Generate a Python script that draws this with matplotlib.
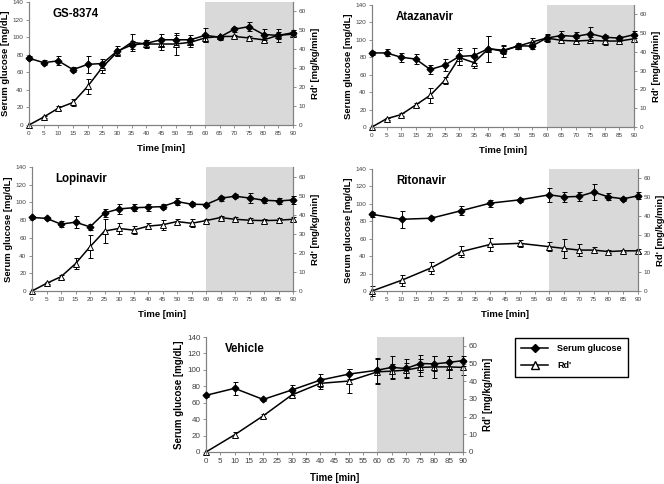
import matplotlib
matplotlib.use("Agg")
import matplotlib.pyplot as plt
from matplotlib.lines import Line2D

plt.rcParams['font.family'] = ['Liberation Sans', 'DejaVu Sans']

# sampling times
t_full = [0, 5, 10, 15, 20, 25, 30, 35, 40, 45, 50, 55, 60, 65, 70, 75, 80, 85, 90]
t_sparse = [0, 10, 20, 30, 40, 50, 60, 65, 70, 75, 80, 85, 90]

# GS-8374
gs_glc = [76, 71, 73, 63, 69, 70, 84, 91, 93, 97, 97, 97, 102, 100, 109, 112, 103, 102, 105]
gs_glc_err = [2, 3, 5, 3, 10, 5, 6, 5, 4, 7, 6, 5, 8, 3, 3, 5, 6, 7, 3]
gs_rd = [0, 4.2, 8.9, 11.9, 20.4, 30.5, 38.4, 43.7, 42.8, 42.8, 42.8, 43.7, 46, 46.8, 46.8, 46, 45, 47.4, 48]
gs_rd_err = [0, 0.5, 1.2, 2, 4, 3, 2, 4.5, 2, 3, 6, 2.5, 2, 1, 1, 1, 1, 2, 1]

# Atazanavir
ata_glc = [85, 85, 80, 78, 66, 71, 81, 82, 90, 87, 93, 93, 102, 105, 104, 107, 103, 102, 106]
ata_glc_err = [2, 4, 5, 6, 5, 7, 10, 9, 15, 7, 3, 4, 5, 5, 5, 8, 3, 3, 4]
ata_rd = [0, 4.4, 6.6, 11.7, 16.9, 24.9, 37, 34.3, 41.7, 40.9, 43, 45.3, 47.4, 46.2, 45.8, 46.2, 45.8, 45.8, 47]
ata_rd_err = [0, 0.5, 1, 1, 4, 2, 4, 3, 7, 2, 1, 2, 1.5, 1.5, 1.5, 1.5, 2, 1.5, 1.5]

# Lopinavir
lop_glc = [83, 82, 75.5, 77.7, 72.4, 88, 92.7, 94, 94.6, 95.3, 101, 98, 97.6, 104.7, 107, 105, 102.5, 101.7, 102.8]
lop_glc_err = [2, 2, 3, 7, 3, 5, 6, 4, 4, 3, 4, 2, 2, 3, 2, 6, 3, 3, 5]
lop_rd = [0, 4, 7.5, 14.3, 23.2, 31.4, 32.8, 31.9, 34, 34.7, 36.4, 35.5, 36.9, 38.5, 37.6, 37.1, 36.9, 37.1, 37.6]
lop_rd_err = [0, 0.5, 1, 3, 6, 6.5, 3, 2, 1.5, 2.5, 1.5, 2, 1, 1, 1, 1, 1, 1, 1]

# Ritonavir
rit_glc = [88, 82.3, 83.5, 92, 100.8, 104.6, 110.4, 108, 108.5, 113.5, 108, 105.8, 109.2]
rit_glc_err = [3, 10, 2, 5, 4, 2, 8, 6, 5, 9, 4, 2, 4]
rit_rd = [0, 5.7, 12.3, 20.9, 24.8, 25.4, 23.6, 22.7, 21.8, 21.8, 21, 21.4, 21.4]
rit_rd_err = [2.5, 3, 3, 3, 3.5, 2, 2.5, 5, 3, 1.5, 1, 0.5, 1]

# Vehicle
veh_glc = [69, 77.5, 64, 75.4, 87.5, 94.8, 99.6, 103, 101.7, 107.7, 107.3, 109, 111.3]
veh_glc_err = [2, 8, 2, 6, 8, 6, 15, 14, 12, 10, 9, 8, 6]
veh_rd = [0, 9.7, 20.4, 32.2, 38.8, 40.1, 45.3, 45.7, 46.3, 47.8, 48.1, 48.1, 47.8]
veh_rd_err = [0, 1.5, 1, 1.5, 3, 7, 7, 4, 4, 5, 6, 6, 4]

spine_col = '#808080'
tick_col = '#404040'


def draw_panel(rect, title, t, glc, glc_err, rd, rd_err, fs=4.6, lfs=6.8,
               tx=0.09, tfs=8.3):
    ax = fig.add_axes(rect)
    ax2 = ax.twinx()
    # ax2 sits underneath and carries the white background + shaded clamp period
    ax.set_zorder(ax2.get_zorder() + 1)
    ax.patch.set_visible(False)
    ax2.patch.set_visible(True)
    ax2.patch.set_facecolor('white')
    ax2.axvspan(60, 90, color='#d9d9d9', zorder=0, lw=0)
    ax.set_xlim(0, 90)
    ax.set_ylim(0, 140)
    ax2.set_ylim(0, 65)
    ax.set_xticks(range(0, 91, 5))
    ax.set_yticks(range(0, 141, 20))
    ax2.set_yticks(range(0, 61, 10))
    for a in (ax, ax2):
        a.spines['top'].set_visible(False)
        for s in ('left', 'right', 'bottom'):
            a.spines[s].set_color(spine_col)
            a.spines[s].set_linewidth(0.8)
        a.tick_params(labelsize=fs, colors=spine_col, labelcolor=tick_col,
                      length=2, width=0.6, pad=2)
    ax2.errorbar(t, rd, yerr=rd_err, color='black', lw=1.1, marker='^', ms=4.2,
                 mfc='white', mec='black', mew=0.7, capsize=1.8, elinewidth=0.7,
                 capthick=0.7, clip_on=False, zorder=3)
    ax.errorbar(t, glc, yerr=glc_err, color='black', lw=1.1, marker='D', ms=3.4,
                mfc='black', mec='black', capsize=1.8, elinewidth=0.7,
                capthick=0.7, clip_on=False, zorder=3)
    ax.set_xlabel('Time [min]', fontsize=lfs, fontweight='bold', labelpad=6)
    ax.set_ylabel('Serum glucose [mg/dL]', fontsize=lfs, fontweight='bold', labelpad=2)
    ax2.set_ylabel("Rd' [mg/kg/min]", fontsize=lfs, fontweight='bold', labelpad=4)
    ax.text(tx, 0.9, title, transform=ax.transAxes, fontsize=tfs,
            fontweight='bold', va='center')
    return ax


W, H = 664, 484
fig = plt.figure(figsize=(W / 100, H / 100), dpi=100)


def px(l, t, r, b):
    return [l / W, 1 - b / H, (r - l) / W, (b - t) / H]


draw_panel(px(29, 2, 293, 125), 'GS-8374', t_full, gs_glc, gs_glc_err, gs_rd, gs_rd_err)
draw_panel(px(372, 5, 634, 127), 'Atazanavir', t_full, ata_glc, ata_glc_err, ata_rd, ata_rd_err)
draw_panel(px(32, 167, 293, 291), 'Lopinavir', t_full, lop_glc, lop_glc_err, lop_rd, lop_rd_err)
draw_panel(px(372, 169, 638, 291), 'Ritonavir', t_sparse, rit_glc, rit_glc_err, rit_rd, rit_rd_err)
draw_panel(px(206, 337, 463, 452), 'Vehicle', t_sparse, veh_glc, veh_glc_err, veh_rd, veh_rd_err,
           fs=5.8, lfs=7, tx=0.075)

handles = [
    Line2D([], [], color='black', lw=1.1, marker='D', ms=4.5, mfc='black'),
    Line2D([], [], color='black', lw=1.1, marker='^', ms=6, mfc='white', mec='black'),
]
fig.legend(handles, ['Serum glucose', "Rd'"], loc='upper left',
           bbox_to_anchor=(515 / W, 1 - 338 / H), borderaxespad=0,
           fancybox=False, edgecolor='black', framealpha=1,
           prop={'size': 6.5, 'weight': 'bold'}, handlelength=3.0,
           borderpad=0.7, labelspacing=0.9, handletextpad=1.0)

fig.savefig('out.png', dpi=100)
